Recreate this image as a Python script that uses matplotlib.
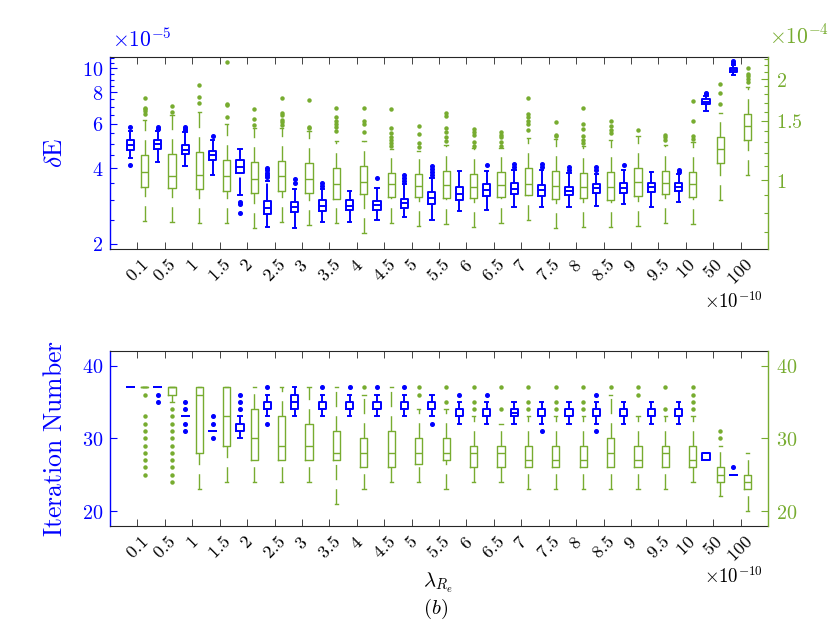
import numpy as np
import matplotlib
matplotlib.use("Agg")
import matplotlib.pyplot as plt
from matplotlib.ticker import NullFormatter

plt.rcParams["mathtext.fontset"] = "cm"

BLUE = "#0000FF"
GREEN = "#77AC30"
GRAY = "#262626"

lam_labels = ["0.1", "0.5", "1", "1.5", "2", "2.5", "3", "3.5", "4", "4.5", "5", "5.5",
              "6", "6.5", "7", "7.5", "8", "8.5", "9", "9.5", "10", "50", "100"]

# delta E, blue series (x 1e-5)
de_b_lo = [4.38, 4.25, 4.09, 3.76, 3.13, 2.33, 2.31, 2.45, 2.45, 2.49, 2.57, 2.49, 2.70, 2.73, 2.81, 2.81, 2.80, 2.84, 2.88, 2.81, 2.94, 6.75, 9.38]
de_b_q1 = [4.74, 4.75, 4.54, 4.32, 3.82, 2.64, 2.69, 2.71, 2.73, 2.73, 2.77, 2.88, 2.99, 3.10, 3.15, 3.11, 3.13, 3.19, 3.20, 3.22, 3.25, 7.18, 9.67]
de_b_med = [4.95, 4.98, 4.74, 4.53, 4.06, 2.79, 2.81, 2.84, 2.84, 2.86, 2.90, 3.04, 3.17, 3.28, 3.31, 3.28, 3.26, 3.33, 3.35, 3.36, 3.37, 7.35, 9.85]
de_b_q3 = [5.16, 5.18, 4.95, 4.69, 4.31, 2.96, 2.93, 2.98, 2.98, 2.97, 3.01, 3.21, 3.38, 3.45, 3.48, 3.43, 3.38, 3.47, 3.50, 3.50, 3.48, 7.53, 10.03]
de_b_hi = [5.61, 5.61, 5.55, 5.18, 4.77, 3.55, 3.30, 3.32, 3.25, 3.33, 3.45, 3.66, 3.90, 3.90, 3.93, 3.92, 3.83, 3.81, 3.93, 3.88, 3.79, 7.74, 10.28]
de_b_out = [[5.85, 4.12], [5.85, 5.72], [5.82, 5.75, 5.68], [5.38], [2.94, 2.88, 2.66],
            [4.02, 3.93, 3.84, 3.76, 3.68], [3.61, 3.48], [3.49, 3.41], [], [3.67],
            [3.76, 3.66, 3.56], [4.08, 3.97, 3.86, 3.76], [], [4.12], [4.14, 4.04],
            [4.14, 4.04], [4.03, 3.93], [4.03, 3.92], [4.12], [], [3.95, 3.88],
            [7.99, 7.88], [10.69, 10.47]]

# delta E, green series (x 1e-4)
de_g_lo = [0.756, 0.751, 0.743, 0.743, 0.718, 0.751, 0.734, 0.743, 0.695, 0.743, 0.729, 0.738, 0.723, 0.743, 0.760, 0.719, 0.726, 0.723, 0.731, 0.746, 0.739, 0.872, 1.035]
de_g_q1 = [0.955, 0.947, 0.940, 0.927, 0.917, 0.929, 0.913, 0.876, 0.908, 0.888, 0.892, 0.882, 0.886, 0.892, 0.902, 0.880, 0.882, 0.872, 0.898, 0.906, 0.888, 1.121, 1.316]
de_g_med = [1.056, 1.030, 1.035, 1.030, 1.007, 1.028, 1.010, 0.975, 0.988, 0.970, 0.962, 0.966, 0.953, 0.966, 0.975, 0.960, 0.955, 0.951, 0.984, 0.980, 0.973, 1.237, 1.451]
de_g_q3 = [1.187, 1.193, 1.214, 1.145, 1.134, 1.142, 1.121, 1.084, 1.101, 1.047, 1.042, 1.064, 1.042, 1.059, 1.088, 1.064, 1.047, 1.059, 1.084, 1.064, 1.059, 1.346, 1.573]
de_g_hi = [1.509, 1.562, 1.598, 1.469, 1.432, 1.432, 1.400, 1.310, 1.311, 1.237, 1.220, 1.272, 1.245, 1.245, 1.337, 1.322, 1.263, 1.316, 1.355, 1.272, 1.295, 1.587, 1.893]
de_g_out = [[1.752, 1.643, 1.624, 1.606, 1.576], [1.662, 1.598], [1.919, 1.771, 1.693],
            [2.252, 1.685, 1.668, 1.544], [1.624, 1.520, 1.456],
            [1.759, 1.584, 1.562, 1.509, 1.484, 1.458], [1.729, 1.442, 1.426],
            [1.643, 1.541, 1.499, 1.469, 1.439, 1.400], [1.636, 1.499, 1.469, 1.395],
            [1.624, 1.426, 1.380, 1.343, 1.316, 1.289, 1.263], [1.449, 1.368, 1.286, 1.254],
            [1.589, 1.551, 1.429, 1.390, 1.343, 1.307], [1.419, 1.390, 1.362, 1.298, 1.263],
            [1.390, 1.366, 1.343, 1.298, 1.267], [1.752, 1.578, 1.541, 1.504, 1.469, 1.409],
            [1.492, 1.366, 1.352], [1.643, 1.466, 1.419, 1.352, 1.316, 1.289],
            [1.499, 1.449, 1.409, 1.378], [1.409], [1.366, 1.343, 1.320],
            [1.720, 1.499, 1.352, 1.329], [1.928, 1.820, 1.685],
            [2.152, 2.077, 2.042, 2.000, 1.959]]

# iteration number, blue series
it_b_lo = [37, 37, 33, 31, 30, 33, 33, 33, 33, 33, 33, 33, 32, 32, 32, 32, 32, 32, 32, 32, 32, 27, 25]
it_b_q1 = [37, 37, 33, 31, 31, 34, 34, 34, 34, 34, 34, 34, 33, 33, 33, 33, 33, 33, 33, 33, 33, 27, 25]
it_b_med = [37, 37, 33, 31, 31, 34, 35, 34, 34, 34, 34, 34, 33, 33, 33.5, 33, 33, 33, 33, 33, 33, 27, 25]
it_b_q3 = [37, 37, 33, 31, 32, 35, 36, 35, 35, 35, 35, 35, 34, 34, 34, 34, 34, 34, 34, 34, 34, 28, 25]
it_b_hi = [37, 37, 33, 31, 33, 36, 37, 36, 36, 36, 36, 36, 35, 35, 35, 35, 35, 35, 35, 35, 35, 28, 25]
it_b_out = [[], [36, 35], [35, 34, 32, 31], [33, 32, 30], [36, 35, 34], [37, 32], [], [37],
            [37], [37], [37], [32], [36], [36], [], [31], [], [36, 31], [], [], [], [], [26]]

# iteration number, green series
it_g_lo = [37, 35, 23, 24, 24, 24, 24, 21, 23, 24, 24, 23, 24, 24, 23, 23, 23, 23, 23, 23, 24, 22, 20]
it_g_q1 = [37, 36, 28, 29, 27, 27, 27, 27, 26, 26, 26.5, 27, 26, 26, 26, 26, 26, 26, 26, 26, 26, 24, 23]
it_g_med = [37, 37, 36, 33, 30, 29, 29, 28, 28, 28, 28, 28, 28, 28, 27, 27, 27, 28, 27, 28, 27, 25, 24]
it_g_q3 = [37, 37, 37, 37, 34, 33, 32, 31, 30, 31, 30, 30, 29, 29, 29, 29, 29, 30, 29, 29, 29, 26, 25]
it_g_hi = [37, 37, 37, 37, 37, 37, 37, 37, 36, 37, 34, 34, 33, 32, 33, 33, 33, 36, 33, 33, 33, 29, 28]
it_g_out = [[36, 33, 32, 31, 30, 29, 28, 27, 26, 25],
            [34, 33, 32, 31, 30, 29, 28, 27, 26, 25, 24],
            [], [], [], [], [], [], [37], [], [37, 36], [37, 35], [37, 35, 34], [37, 34],
            [37, 35, 34], [37, 35, 34], [37, 35, 34], [37], [37, 36], [37, 34],
            [37, 36, 35, 34], [31, 30], []]


def make_stats(lo, q1, med, q3, hi, out):
    return [dict(whislo=a, q1=b, med=c, q3=d, whishi=e, fliers=f)
            for a, b, c, d, e, f in zip(lo, q1, med, q3, hi, out)]


def draw_boxes(ax, stats, positions, color, lw, dash, ms):
    parts = ax.bxp(stats, positions=positions, widths=0.26, capwidths=0.12,
                   manage_ticks=False,
                   boxprops=dict(color=color, lw=lw),
                   medianprops=dict(color=color, lw=lw),
                   whiskerprops=dict(color=color, lw=lw, linestyle=(0, dash)),
                   capprops=dict(color=color, lw=lw),
                   flierprops=dict(marker="o", markerfacecolor=color, markeredgecolor=color,
                                   markersize=ms, linestyle="none"))
    # lower whiskers dashed starting from the adjacent value
    for w in parts["whiskers"][0::2]:
        w.set_ydata(w.get_ydata()[::-1])


def style_axes(ax, ax2):
    ax.set_xlim(0, 24)
    ax.set_xticks(pos)
    ax.set_xticklabels([f"${s}$" for s in lam_labels], rotation=45)
    ax.tick_params(axis="x", which="both", direction="in", top=True, bottom=True,
                   length=5, width=0.6, color=GRAY, labelsize=13, labelcolor="black", pad=5)
    ax.tick_params(axis="y", which="major", direction="in", length=5, width=0.8,
                   color=BLUE, labelcolor=BLUE, labelsize=14.5, pad=5)
    ax.tick_params(axis="y", which="minor", direction="in", length=3, width=0.8, color=BLUE)
    ax2.tick_params(axis="y", which="major", direction="in", length=5, width=0.8,
                    color=GREEN, labelcolor=GREEN, labelsize=14.5, pad=6)
    ax2.tick_params(axis="y", which="minor", direction="in", length=3, width=0.8, color=GREEN)
    ax.spines["right"].set_visible(False)
    ax.spines["left"].set_color(BLUE)
    ax.spines["left"].set_linewidth(1.0)
    for s in ("top", "bottom"):
        ax.spines[s].set_color(GRAY)
        ax.spines[s].set_linewidth(0.8)
        ax2.spines[s].set_visible(False)
    ax2.spines["left"].set_visible(False)
    ax2.spines["right"].set_color(GREEN)
    ax2.spines["right"].set_linewidth(1.0)
    ax.yaxis.set_label_coords(-0.064, 0.5)


pos = np.arange(1, len(lam_labels) + 1)
off = 0.26

fig = plt.figure(figsize=(8.3, 6.23), dpi=100)
ax_top = fig.add_axes([110 / 830, 1 - 249 / 623, 658 / 830, 192 / 623])
ax_top2 = ax_top.twinx()
ax_bot = fig.add_axes([110 / 830, 1 - 526 / 623, 658 / 830, 175 / 623])
ax_bot2 = ax_bot.twinx()

# top panel: delta E (log scales)
ax_top.set_yscale("log")
ax_top2.set_yscale("log")
draw_boxes(ax_top, make_stats(de_b_lo, de_b_q1, de_b_med, de_b_q3, de_b_hi, de_b_out),
           pos - off, BLUE, 1.4, (9, 4), 2.6)
draw_boxes(ax_top2, make_stats(de_g_lo, de_g_q1, de_g_med, de_g_q3, de_g_hi, de_g_out),
           pos + off, GREEN, 1.0, (11, 6.5), 2.2)
ax_top.set_ylim(1.91, 11.06)
ax_top2.set_ylim(0.623, 2.326)
ax_top.set_yticks([2, 4, 6, 8, 10], labels=["$2$", "$4$", "$6$", "$8$", "$10$"])
ax_top.set_yticks([2.5, 3, 3.5, 4.5, 5, 5.5, 6.5, 7, 7.5, 8.5, 9, 9.5, 10.5, 11], minor=True)
ax_top.yaxis.set_minor_formatter(NullFormatter())
ax_top2.set_yticks([1, 1.5, 2], labels=["$1$", "$1.5$", "$2$"])
ax_top2.set_yticks([0.7, 0.8, 0.9, 1.1, 1.2, 1.3, 1.4, 1.6, 1.7, 1.8, 1.9, 2.1, 2.2, 2.3],
                   minor=True)
ax_top2.yaxis.set_minor_formatter(NullFormatter())
style_axes(ax_top, ax_top2)
ax_top.set_ylabel(r"$\delta\mathrm{E}$", color=BLUE, fontsize=18.5)

# bottom panel: iteration number
draw_boxes(ax_bot, make_stats(it_b_lo, it_b_q1, it_b_med, it_b_q3, it_b_hi, it_b_out),
           pos - off, BLUE, 1.4, (9, 4), 2.6)
draw_boxes(ax_bot2, make_stats(it_g_lo, it_g_q1, it_g_med, it_g_q3, it_g_hi, it_g_out),
           pos + off, GREEN, 1.0, (11, 6.5), 2.2)
ax_bot.set_ylim(17.94, 42.0)
ax_bot2.set_ylim(17.94, 42.0)
ax_bot.set_yticks([20, 30, 40], labels=["$20$", "$30$", "$40$"])
ax_bot2.set_yticks([20, 30, 40], labels=["$20$", "$30$", "$40$"])
style_axes(ax_bot, ax_bot2)
ax_bot.set_ylabel(r"$\mathrm{Iteration\ Number}$", color=BLUE, fontsize=18.5)

# multipliers and captions
fig.text(112 / 830, 1 - 51 / 623, r"$\times10^{-5}$", color=BLUE, fontsize=15.5,
         ha="left", va="bottom")
fig.text(769 / 830, 1 - 47 / 623, r"$\times10^{-4}$", color=GREEN, fontsize=15.5,
         ha="left", va="bottom")
fig.text(763 / 830, 1 - 312 / 623, r"$\times10^{-10}$", color="black", fontsize=13.5,
         ha="right", va="bottom")
fig.text(763 / 830, 1 - 587 / 623, r"$\times10^{-10}$", color="black", fontsize=13.5,
         ha="right", va="bottom")
fig.text(438 / 830, 1 - 583 / 623, r"$\lambda_{R_e}$", color="black", fontsize=15,
         ha="center", va="center")
fig.text(436 / 830, 1 - 609 / 623, r"$(b)$", color="black", fontsize=15,
         ha="center", va="center")

fig.savefig("out.png", dpi=100)
